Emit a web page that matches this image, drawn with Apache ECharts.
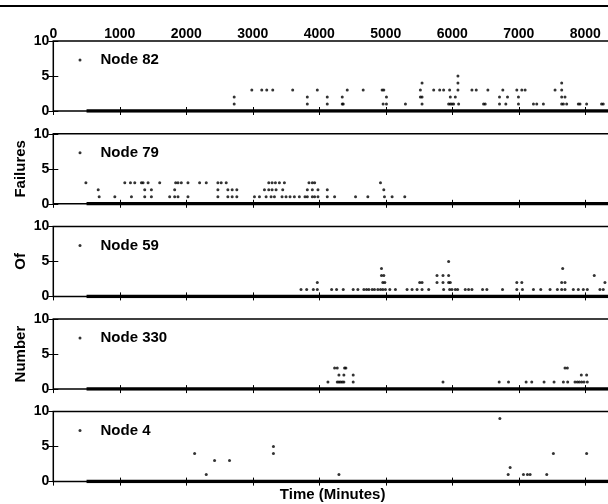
<!DOCTYPE html>
<html>
<head>
<meta charset="utf-8">
<script src="https://cdn.jsdelivr.net/npm/echarts@6/dist/echarts.min.js"></script>
<style>
  html, body { margin: 0; padding: 0; background: #fff; }
  #chart { width: 608px; height: 504px; }
</style>
</head>
<body>
<div id="chart"></div>
<script>
// panels, top to bottom
let nodes = ['Node 82', 'Node 79', 'Node 59', 'Node 330', 'Node 4']

// [time (minutes), number of failures]
let node82 = [
  [2720, 2], [2720, 1],
  [2985, 3], [3135, 3], [3210, 3], [3300, 3], [3600, 3],
  [6085, 5],
  [5545, 4], [6085, 4], [7645, 4],
  [3970, 3], [4420, 3], [4660, 3], [4945, 3], [4970, 3], [5520, 3], [5720, 3], [5810, 3], [5870, 3],
  [5960, 3], [6085, 3], [6295, 3], [6360, 3], [6535, 3], [6760, 3], [6970, 3], [7045, 3], [7095, 3],
  [7545, 3], [7645, 3],
  [3820, 2], [4120, 2], [4345, 2], [5010, 2], [5520, 2], [5545, 2], [5970, 2], [6045, 2], [6710, 2],
  [6830, 2], [6995, 2], [7645, 2], [7695, 2],
  [3820, 1], [4120, 1], [4345, 1], [4360, 1], [4960, 1], [5010, 1], [5295, 1], [5545, 1], [5945, 1],
  [5970, 1], [5995, 1], [6020, 1], [6095, 1], [6470, 1], [6495, 1], [6710, 1], [6805, 1], [6995, 1],
  [7220, 1], [7270, 1], [7370, 1], [7645, 1], [7670, 1], [7720, 1], [7895, 1], [7920, 1], [8020, 1],
  [8245, 1], [8270, 1]
]
let node79 = [
  [490, 3], [1075, 3], [1160, 3], [1225, 3], [1325, 3], [1350, 3], [1425, 3], [1600, 3], [1840, 3],
  [1875, 3], [1925, 3], [2025, 3], [2200, 3], [2300, 3], [2475, 3], [2525, 3], [2600, 3], [3240, 3],
  [3290, 3], [3340, 3], [3400, 3], [3475, 3], [3845, 3], [3895, 3], [3930, 3], [4920, 3],
  [675, 2], [1375, 2], [1475, 2], [1825, 2], [2475, 2], [2625, 2], [2690, 2], [2760, 2], [3175, 2],
  [3240, 2], [3290, 2], [3350, 2], [3450, 2], [3820, 2], [3895, 2], [3980, 2], [4120, 2], [4970, 2],
  [690, 1], [925, 1], [1175, 1], [1375, 1], [1475, 1], [1750, 1], [1825, 1], [1875, 1], [2025, 1],
  [2475, 1], [2625, 1], [2690, 1], [2760, 1], [3025, 1], [3100, 1], [3200, 1], [3275, 1], [3325, 1],
  [3440, 1], [3500, 1], [3560, 1], [3625, 1], [3700, 1], [3785, 1], [3820, 1], [3895, 1], [3930, 1],
  [3980, 1], [4120, 1], [4230, 1], [4545, 1], [4730, 1], [4980, 1], [5095, 1], [5285, 1]
]
let node59 = [
  [5945, 5],
  [4935, 4], [7660, 4],
  [4935, 3], [4970, 3], [5770, 3], [5860, 3], [5945, 3], [8135, 3],
  [3970, 2], [4955, 2], [4985, 2], [5510, 2], [5545, 2], [5770, 2], [5860, 2], [5945, 2], [5970, 2],
  [6970, 2], [7045, 2], [7645, 2], [7695, 2], [8295, 2],
  [3725, 1], [3810, 1], [3910, 1], [3970, 1], [4185, 1], [4260, 1], [4360, 1], [4510, 1], [4580, 1],
  [4670, 1], [4710, 1], [4745, 1], [4795, 1], [4830, 1], [4880, 1], [4920, 1], [4955, 1], [4995, 1],
  [5060, 1], [5145, 1], [5320, 1], [5395, 1], [5470, 1], [5545, 1], [5645, 1], [5870, 1], [5960, 1],
  [5995, 1], [6045, 1], [6080, 1], [6195, 1], [6245, 1], [6295, 1], [6455, 1], [6520, 1], [6755, 1],
  [6970, 1], [7055, 1], [7220, 1], [7330, 1], [7470, 1], [7580, 1], [7645, 1], [7695, 1], [7820, 1],
  [7895, 1], [7970, 1], [8030, 1], [8220, 1], [8270, 1]
]
let node330 = [
  [4230, 3], [4270, 3], [4380, 3], [4400, 3], [7695, 3], [7730, 3],
  [4295, 2], [4370, 2], [4510, 2], [7940, 2], [8020, 2],
  [4130, 1], [4270, 1], [4295, 1], [4320, 1], [4345, 1], [4370, 1], [4510, 1], [5860, 1], [6705, 1],
  [6845, 1], [7110, 1], [7195, 1], [7380, 1], [7530, 1], [7670, 1], [7735, 1], [7845, 1], [7880, 1],
  [7910, 1], [7945, 1], [7980, 1], [8030, 1]
]
let node4 = [
  [2125, 4], [2300, 1], [2425, 3], [2650, 3], [3310, 5], [3310, 4], [4295, 1], [6715, 9],
  [6870, 2], [6840, 1], [7070, 1], [7130, 1], [7170, 1], [7420, 1], [7520, 4], [8020, 4]
]
let failures = [node82, node79, node59, node330, node4]

// from minute 500 to the end every minute has 0 failures, so the dots merge into a bar
let zeroRun = [500, 8400]

let xTicks = [0, 1000, 2000, 3000, 4000, 5000, 6000, 7000, 8000]
let yTicks = [0, 5, 10]
let yTitles = ['', 'Failures', 'Of', 'Number', '']

// layout
let tops = [41, 133.8, 226.4, 319.1, 411.6]
let plotLeft = 53.3
let plotWidth = 558.6
let plotHeight = 70
let bold = { color: '#000', fontWeight: 'bold', fontFamily: 'Liberation Sans' }

let grids = [], xAxes = [], yAxes = [], series = [], legends = []

nodes.forEach((name, i) => {
  grids.push({
    left: plotLeft, top: tops[i], width: plotWidth, height: plotHeight,
    show: true, borderColor: '#000', borderWidth: 1.5,
    outerBoundsMode: 'none'
  })

  let tick = { show: true, inside: true, length: 4, customValues: xTicks, lineStyle: { color: '#000', width: 1 } }
  xAxes.push({
    type: 'value', gridIndex: i, position: 'bottom', min: 0, max: 8400, interval: 1000,
    axisLine: { show: false }, splitLine: { show: false },
    axisTick: tick, axisLabel: { show: false },
    name: i === nodes.length - 1 ? 'Time (Minutes)' : '',
    nameLocation: 'middle', nameGap: 6,
    nameTextStyle: Object.assign({ fontSize: 15 }, bold)
  })
  xAxes.push({
    type: 'value', gridIndex: i, position: 'top', min: 0, max: 8400, interval: 1000,
    axisLine: { show: false }, splitLine: { show: false },
    axisTick: tick,
    axisLabel: Object.assign({
      show: i === 0, customValues: xTicks, margin: 0, fontSize: 14,
      formatter: v => xTicks.indexOf(v) >= 0 ? String(v) : ''
    }, bold)
  })

  let ytick = { show: true, inside: true, length: 5, customValues: yTicks, lineStyle: { color: '#000', width: 1 } }
  yAxes.push({
    type: 'value', gridIndex: i, position: 'left', min: 0, max: 10, interval: 5,
    axisLine: { show: false }, splitLine: { show: false },
    axisTick: ytick,
    axisLabel: Object.assign({ customValues: yTicks, margin: 4, fontSize: 14 }, bold),
    name: yTitles[i], nameLocation: 'middle', nameGap: 25, nameRotate: 90,
    nameMoveOverlap: false,
    nameTextStyle: Object.assign({ fontSize: 15 }, bold)
  })
  yAxes.push({
    type: 'value', gridIndex: i, position: 'right', min: 0, max: 10, interval: 5,
    axisLine: { show: false }, splitLine: { show: false },
    axisTick: ytick, axisLabel: { show: false }
  })

  series.push({
    type: 'line', name: 'zero' + i, xAxisIndex: 2 * i, yAxisIndex: 2 * i,
    data: [[zeroRun[0], 0], [zeroRun[1], 0]],
    symbol: 'none', silent: true,
    lineStyle: { color: '#000', width: 3.5 }
  })
  series.push({
    type: 'scatter', name: name, xAxisIndex: 2 * i, yAxisIndex: 2 * i,
    data: failures[i], symbol: 'circle', symbolSize: 3,
    itemStyle: { color: '#000' }
  })

  legends.push({
    data: [name], left: 73.5, top: tops[i] + 6.5,
    icon: 'circle', itemWidth: 3, itemHeight: 3, selectedMode: false,
    textStyle: Object.assign({ fontSize: 15, padding: [0, 0, 0, 14] }, bold)
  })
})

let chart = echarts.init(document.getElementById('chart'))
chart.setOption({
  animation: false,
  backgroundColor: '#fff',
  textStyle: { fontFamily: 'Liberation Sans' },
  grid: grids,
  xAxis: xAxes,
  yAxis: yAxes,
  legend: legends,
  series: series,
  graphic: [{
    type: 'line',
    shape: { x1: 0, y1: 6, x2: 608, y2: 6 },
    style: { stroke: '#000', lineWidth: 2 }
  }]
})
</script>
</body>
</html>
